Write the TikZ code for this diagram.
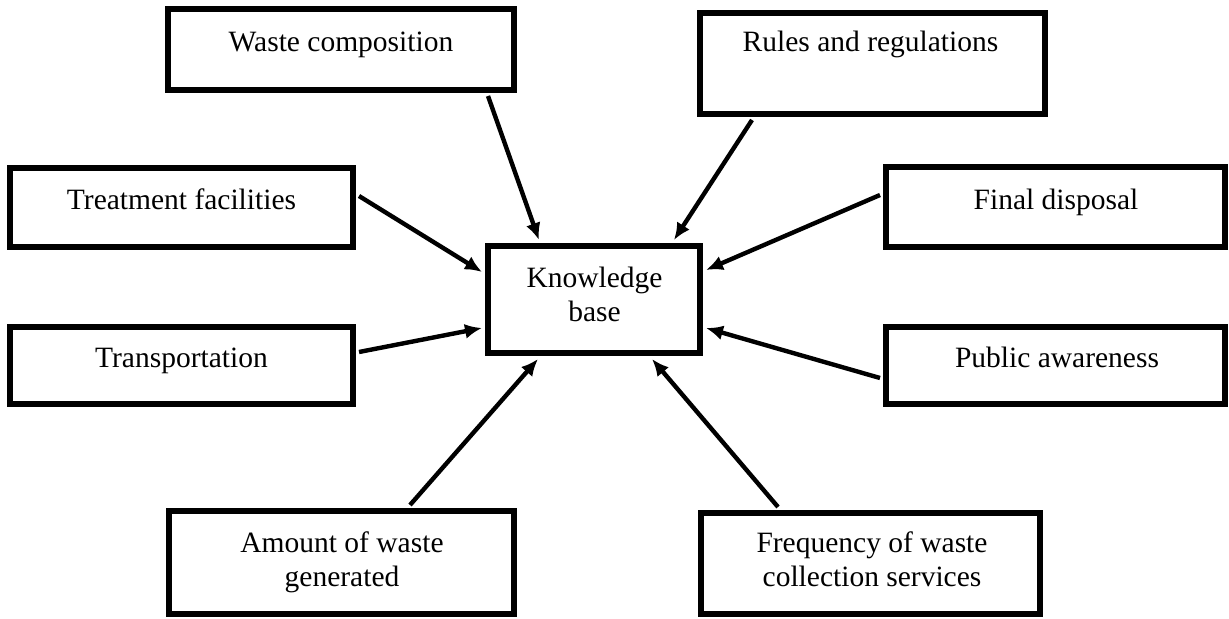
\documentclass[tikz,border=0pt]{standalone}
\usepackage{fontspec}
\setmainfont{Liberation Serif}
\usetikzlibrary{arrows.meta,calc}
\begin{document}
\begin{tikzpicture}[x=0.5pt,y=-0.5pt,
  box/.style={draw=black, line width=3.2pt, fill=white, inner sep=0pt},
  txt/.style={font=\fontsize{14.75}{17}\selectfont, align=center, inner sep=0pt},
  arr/.style={line width=2.2pt, -{Latex[length=8.5pt,width=7.5pt]}}]
\useasboundingbox (0,0) rectangle (1229,619);
% boxes
\node[box, minimum width=172.8pt, minimum height=40.3pt] (wc) at (341,49.5) {};
\node[box, minimum width=172.3pt, minimum height=50.3pt] (rr) at (872.5,63.5) {};
\node[box, minimum width=171.3pt, minimum height=39.3pt] (tf) at (181.5,207.5) {};
\node[box, minimum width=169.3pt, minimum height=39.8pt] (fd) at (1055.5,207) {};
\node[box, minimum width=171.3pt, minimum height=38.3pt] (tr) at (181.5,365.5) {};
\node[box, minimum width=169.3pt, minimum height=38.3pt] (pa) at (1055.5,365.5) {};
\node[box, minimum width=105.8pt, minimum height=53.3pt] (kb) at (594,299.5) {};
\node[box, minimum width=172.3pt, minimum height=51.3pt] (aw) at (341.5,562.5) {};
\node[box, minimum width=169.3pt, minimum height=50.3pt] (fq) at (870.5,563.5) {};
% texts
\node[txt, anchor=base] (wct) at (341,52) {Waste composition};
\node[txt, anchor=base] (rrt) at (870.5,52) {Rules and regulations};
\node[txt, anchor=base] (tft) at (181.5,210) {Treatment facilities};
\node[txt, anchor=base] (fdt) at (1056,210) {Final disposal};
\node[txt, anchor=base] (trt) at (181.5,368) {Transportation};
\node[txt, anchor=base] (pat) at (1057,368) {Public awareness};
\node[txt] (kbt) at (594.5,294) {Knowledge\\base};
\node[txt] (awt) at (342,562) {Amount of waste\\generated};
\node[txt] (fqt) at (872,559) {Frequency of waste\\collection services};
% connectors
\draw[arr] ($(wc.south)+(147,3)$) -- ($(kb.north)+(-55,-3)$);
\draw[arr] ($(rr.south)+(-120.5,3)$) -- ($(kb.north)+(80,-3)$);
\draw[arr] ($(tf.east)+(3,-11.5)$) -- ($(kb.west)+(-3,-27.5)$);
\draw[arr] ($(tr.east)+(3,-13.5)$) -- ($(kb.west)+(-3,28.5)$);
\draw[arr] ($(fd.west)+(-3,-12)$) -- ($(kb.east)+(3,-29.5)$);
\draw[arr] ($(pa.west)+(-3,12.5)$) -- ($(kb.east)+(3,28.5)$);
\draw[arr] ($(aw.north)+(68.5,-3)$) -- ($(kb.south)+(-56,3)$);
\draw[arr] ($(fq.north)+(-92.5,-3)$) -- ($(kb.south)+(58,3)$);
\end{tikzpicture}
\end{document}
